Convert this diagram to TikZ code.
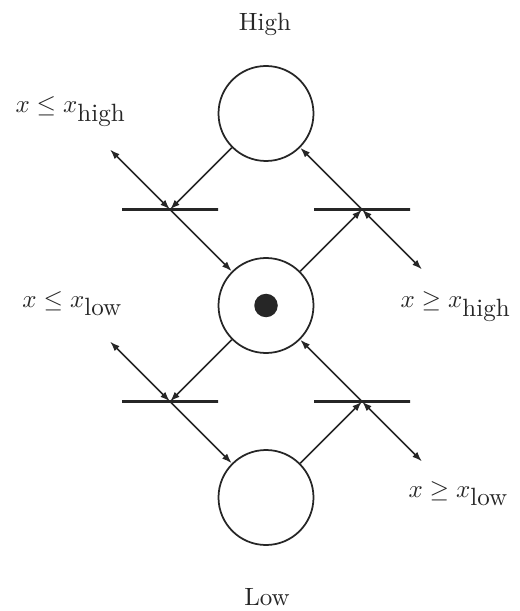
\documentclass[tikz,border=0pt]{standalone}
\usetikzlibrary{arrows.meta}
\begin{document}
\begin{tikzpicture}[x=0.4pt,y=-0.4pt,
  every path/.style={color=black!85},
  every node/.style={text=black!85},
  place/.style={circle,draw,line width=0.7pt,minimum size=38pt,inner sep=0pt},
  token/.style={circle,fill,minimum size=9.4pt,inner sep=0pt},
  trans/.style={rectangle,draw,line width=1.2pt,minimum width=38.4pt,minimum height=0pt,inner sep=0pt},
  arc/.style={line width=0.7pt,-{Latex[length=4pt,width=2.8pt]}},
  dblarc/.style={line width=0.7pt,{Latex[length=4pt,width=2.8pt]}-{Latex[length=4pt,width=2.8pt]}},
  lbl/.style={inner sep=0pt,anchor=base west},
  title/.style={inner sep=0pt,anchor=base}]
\useasboundingbox (0,0) rectangle (519,611);
% places
\node[place] (hi) at (266,113.5) {};
\node[place] (mid) at (266,305.5) {};
\node[place] (lo) at (266,497.5) {};
\node[token] (tok) at (mid.center) {};
% transitions
\node[trans] (t1) at (170,209.5) {};
\node[trans] (t2) at (362,209.5) {};
\node[trans] (t3) at (170,401.5) {};
\node[trans] (t4) at (362,401.5) {};
% free ends
\coordinate (f1) at (110,149.5);
\coordinate (f2) at (422,269.5);
\coordinate (f3) at (110,341.5);
\coordinate (f4) at (422,461.5);
% arcs
\draw[arc] (hi) -- (t1.center);
\draw[arc] (t1.center) -- (mid);
\draw[dblarc] (f1) -- (t1.center);
\draw[arc] (mid) -- (t2.center);
\draw[arc] (t2.center) -- (hi);
\draw[dblarc] (t2.center) -- (f2);
\draw[arc] (mid) -- (t3.center);
\draw[arc] (t3.center) -- (lo);
\draw[dblarc] (f3) -- (t3.center);
\draw[arc] (lo) -- (t4.center);
\draw[arc] (t4.center) -- (mid);
\draw[dblarc] (t4.center) -- (f4);
% labels
\node[title] (lhigh) at (265,31) {High};
\node[title] (llow) at (267,605) {Low};
\node[lbl] (g1) at (15,113) {$x \leq x_{\mbox{high}}$};
\node[lbl] (g2) at (22,307) {$x \leq x_{\mbox{low}}$};
\node[lbl] (g3) at (400,308) {$x \geq x_{\mbox{high}}$};
\node[lbl] (g4) at (408,497) {$x \geq x_{\mbox{low}}$};
\end{tikzpicture}
\end{document}
